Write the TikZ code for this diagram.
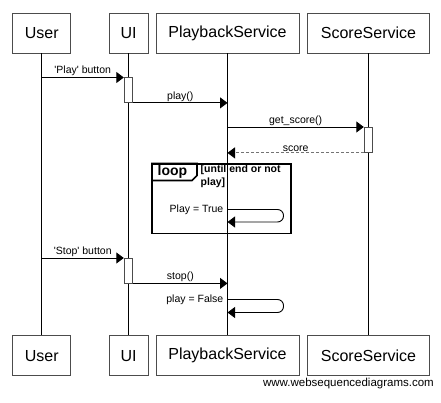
\documentclass[tikz,border=0pt]{standalone}
\usepackage{fontspec}
\setsansfont{Liberation Sans}
\usetikzlibrary{arrows.meta}

\begin{document}
\begin{tikzpicture}[x=1pt, y=-1pt,
  font=\sffamily, >={Triangle[length=7.5pt, width=11pt]},
  actor/.style={draw=black!70, line width=0.9pt, fill=white, minimum height=40pt, inner sep=0pt, font=\sffamily\fontsize{16}{18}\selectfont},
  life/.style={black, line width=0.9pt},
  act/.style={draw=black!70, fill=white, line width=0.9pt, minimum width=8.5pt, inner sep=0pt},
  msg/.style={->, black, line width=0.9pt},
  reply/.style={-{Triangle[length=7.5pt, width=11pt, color=black]}, black!55, line width=0.9pt, dash pattern=on 3pt off 2pt},
  lbl/.style={font=\sffamily\fontsize{10.5}{12}\selectfont, inner sep=1pt, text=black},
  frame/.style={draw=black, line width=1.6pt}]
\path[fill=white] (0,0) rectangle (441,403);
% ---------------- participants + lifelines
\foreach \n/\x/\w/\t in {user/41.7/58/User, ui/128.5/39/UI, pb/227.5/143/PlaybackService, sc/368.5/122/ScoreService} {
  \node[actor, minimum width=\w pt] (\n-top) at (\x,33) {\t};
  \node[actor, minimum width=\w pt] (\n-bot) at (\x,355.7) {\t};
}
\foreach \n in {user,ui,pb,sc} \draw[life] (\n-top.south) -- (\n-bot.north);
% ---------------- play
\node[act, minimum height=24.5pt, anchor=north] (actPlay) at (ui-top.south |- 0,77.5) {};
\draw[msg] (user-top.south |- actPlay.north) -- node[lbl, above] {\textquotesingle Play\textquotesingle{} button} (actPlay.north west);
\draw[msg] (actPlay.south east) -- node[lbl, above] {play()} (pb-top.south |- actPlay.south);
\node[act, minimum height=25pt, anchor=north] (actScore) at (sc-top.south |- 0,127) {};
\draw[msg] (pb-top.south |- actScore.north) -- node[lbl, above] {get\_score()} (actScore.north west);
\draw[reply] (actScore.south west) -- node[lbl, above] {score} (pb-top.south |- actScore.south);
% ---------------- loop
\node[frame, minimum width=139pt, minimum height=69pt, inner sep=0pt, anchor=north west] (loopF) at (151,163.5) {};
\draw[frame] (loopF.north west) -- ++(46,0) -- ++(0,12) -- ++(-5,5) -- ++(-41,0);
\node[font=\sffamily\bfseries\fontsize{14}{16}\selectfont, inner sep=0pt] (loopT) at (172.5,172) {loop};
\node[font=\sffamily\bfseries\fontsize{10.5}{13}\selectfont, inner sep=0pt, anchor=north west, align=left] (loopG) at (200.5,165) {[until end or not\\play]};
\coordinate (selfA) at (pb-top.south |- 0,209.5);
\draw[msg, rounded corners=6pt] (selfA) -- ++(56,0) -- ++(0,12.5) -- ++(-56,0);
\node[lbl, anchor=east] (selfAL) at ([xshift=-3pt]selfA) {Play = True};
% ---------------- stop
\node[act, minimum height=24.5pt, anchor=north] (actStop) at (ui-top.south |- 0,258) {};
\draw[msg] (user-top.south |- actStop.north) -- node[lbl, above] {\textquotesingle Stop\textquotesingle{} button} (actStop.north west);
\draw[msg] (actStop.south east) -- node[lbl, above] {stop()} (pb-top.south |- actStop.south);
\coordinate (selfB) at (pb-top.south |- 0,299.5);
\draw[msg, rounded corners=6pt] (selfB) -- ++(56,0) -- ++(0,13) -- ++(-56,0);
\node[lbl, anchor=east] (selfBL) at ([xshift=-3pt]selfB) {play = False};
\node[font=\sffamily\fontsize{11.5}{13}\selectfont, inner sep=0pt, anchor=east] (wsd) at (434,383.5) {www.websequencediagrams.com};
\end{tikzpicture}
\end{document}
